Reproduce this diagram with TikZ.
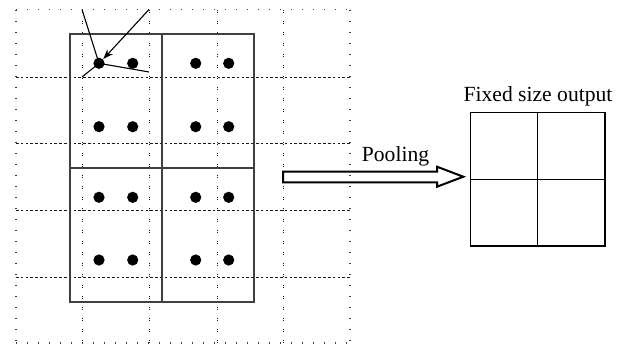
\documentclass[tikz,border=0pt]{standalone}
\usepackage{fontspec}
\setmainfont{Liberation Serif}
\usetikzlibrary{arrows.meta}
\begin{document}
\begin{tikzpicture}[x=0.5pt,y=-0.5pt,
  gridh/.style={line width=0.45pt, black!90, dash pattern=on 1.3pt off 1.1pt},
  gridv/.style={line width=0.5pt, black!90, dash pattern=on 0.7pt off 0.35pt on 0.7pt off 3.75pt},
  gridedge/.style={line width=0.55pt, black!75, dash pattern=on 0.7pt off 4.8pt},
  roi/.style={line width=0.7pt, black!75},
  outbox/.style={line width=0.6pt, black},
  sample/.style={circle, fill=black, inner sep=0pt, minimum size=5.6pt},
  interp/.style={line width=0.55pt, black},
  label/.style={font=\fontsize{10.8pt}{12pt}\selectfont, inner sep=0pt, anchor=base}
]
\useasboundingbox (0,0) rectangle (624,344);

% feature-map grid: outer edges
\draw[gridedge] (16,9.5) -- (350,9.5);
\draw[gridedge] (16,343) -- (350,343);
\draw[gridedge] (16,9.5) -- (16,343);
\draw[gridedge] (350,9.5) -- (350,343);
% feature-map grid: inner lines
\foreach \y in {77,143,210,277} \draw[gridh] (16,\y) -- (350,\y);
\foreach \x in {82,149,217,283} \draw[gridv] (\x,9.5) -- (\x,343);

% region of interest split into 2x2 bins
\draw[roi] (70,34) rectangle (254,302);
\draw[roi] (162,34) -- (162,302);
\draw[roi] (70,168) -- (254,168);

% sampling points, four per bin
\foreach \x/\i in {99/1,132.7/2,195.7/3,228.7/4}
  \foreach \y/\j in {63.3/1,126.7/2,197.3/3,260/4}
    \node[sample] (s\i\j) at (\x,\y) {};

% bilinear interpolation from the four neighbouring grid points
\coordinate (tl) at (82,9.5);
\coordinate (tr) at (149,9.5);
\coordinate (br) at (149,72);
\coordinate (bl) at (82,77);
\draw[interp] (tl) -- (s11.center);
\draw[interp,-{Stealth[length=5pt,width=3.6pt]}] (tr) -- (s11.north east);
\draw[interp] (br) -- (s11.center);
\draw[interp] (bl) -- (s11.center);

% pooling arrow
\draw[line width=1pt, black, line join=miter]
  (283,171.7) -- (437,171.7) -- (437,166.7) -- (463.3,176.7)
  -- (437,186.7) -- (437,182.3) -- (283,182.3) -- cycle;
\node[label] (pool) at (395.5,161) {Pooling};

% fixed-size output
\draw[outbox] (470.7,112.7) rectangle (605,246);
\draw[outbox] (537.8,112.7) -- (537.8,246);
\draw[outbox] (470.7,179.3) -- (605,179.3);
\node[label] (out) at (538,101.7) {Fixed size output};
\end{tikzpicture}
\end{document}
